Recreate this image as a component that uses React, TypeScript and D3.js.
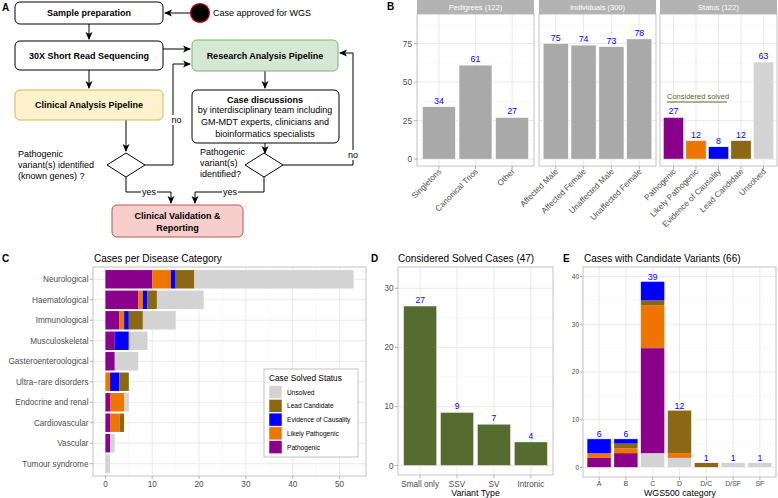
import React from "react";
import * as d3 from "d3";

const FONT = "'Liberation Sans', Arial, Helvetica, sans-serif";

// ---- Panel B data ----
const pedigreeCats = ["Singletons", "Canonical Trios", "Other"];
const pedigreeVals = [34, 61, 27];
const individualCats = ["Affected Male", "Affected Female", "Unaffected Male", "Unaffected Female"];
const individualVals = [75, 74, 73, 78];
const statusCats = ["Pathogenic", "Likely Pathogenic", "Evidence of Causality", "Lead Candidate", "Unsolved"];
const statusVals = [27, 12, 8, 12, 63];
const facetTitles = ["Pedigrees (122)", "Individuals (300)", "Status (122)"];
const bYTicks = [0, 25, 50, 75];

// ---- Panel C data ----
const diseaseCats = [
  "Neurological", "Haematological", "Immunological", "Musculoskeletal", "Gasteroenteroological",
  "Ultra\u2212rare disorders", "Endocrine and renal", "Cardiovascular", "Vascular", "Tumour syndrome",
];
const diseasePathogenic = [10, 7, 3, 2, 2, 0, 1, 1, 1, 0];
const diseaseLikely = [4, 1, 1, 0, 0, 1, 3, 2, 0, 0];
const diseaseEvidence = [1, 1, 1, 3, 0, 2, 0, 0, 0, 0];
const diseaseLead = [4, 2, 3, 0, 0, 2, 0, 1, 0, 0];
const diseaseUnsolved = [34, 10, 7, 4, 5, 0, 1, 0, 1, 1];
const cXTicks = [0, 10, 20, 30, 40, 50];

// ---- Panel D data ----
const variantTypes = ["Small only", "SSV", "SV", "Intronic"];
const variantVals = [27, 9, 7, 4];
const dYTicks = [0, 10, 20, 30];

// ---- Panel E data ----
const wgsCats = ["A", "B", "C", "D", "D/C", "D/SF", "SF"];
const wgsUnsolved = [0, 0, 3, 2, 0, 1, 1];
const wgsPathogenic = [2, 3, 22, 0, 0, 0, 0];
const wgsLikely = [1, 1, 9, 1, 0, 0, 0];
const wgsLead = [0, 1, 1, 9, 1, 0, 0];
const wgsEvidence = [3, 1, 4, 0, 0, 0, 0];
const eYTicks = [0, 10, 20, 30, 40];

const statusColors: Record<string, string> = {
  Pathogenic: "#8B008B",
  "Likely Pathogenic": "#EE7600",
  "Evidence of Causality": "#0000FF",
  "Lead Candidate": "#8B6914",
  Unsolved: "#D3D3D3",
};
const legendOrder = ["Unsolved", "Lead Candidate", "Evidence of Causality", "Likely Pathogenic", "Pathogenic"];

const GRID_MAJ = "#e3e3e3";
const GRID_MIN = "#f0f0f0";
const BORDER = "#b3b3b3";
const AXTXT = "#4d4d4d";
const LABEL_BLUE = "#0000FF";

function expLinear(min: number, max: number, r0: number, r1: number) {
  const pad = 0.05 * (max - min);
  return d3.scaleLinear().domain([min - pad, max + pad]).range([r0, r1]);
}
function ggBand(cats: string[], r0: number, r1: number) {
  return d3.scaleBand<string>().domain(cats).range([r0, r1]).paddingInner(0.1).paddingOuter(0.15);
}

function Arrow({ d }: { d: string }) {
  return <path d={d} fill="none" stroke="#000" strokeWidth={1} markerEnd="url(#arr)" />;
}

function PanelA() {
  const box = (x: number, y: number, w: number, h: number, fill: string, stroke: string) => (
    <rect x={x} y={y} width={w} height={h} rx={5} fill={fill} stroke={stroke} strokeWidth={1} />
  );
  const bt = { fontFamily: FONT, fontSize: 9, fontWeight: 700, textAnchor: "middle" as const };
  const rt = { fontFamily: FONT, fontSize: 9 };
  const diamond = (cx: number, cy: number) =>
    `M${cx},${cy - 12} L${cx + 19},${cy} L${cx},${cy + 12} L${cx - 19},${cy} Z`;
  return (
    <g>
      <text x={2} y={11} fontFamily={FONT} fontSize={10} fontWeight={700}>A</text>
      <Arrow d="M190,13 L165,13" />
      <Arrow d="M89,24 L89,39" />
      <Arrow d="M163,49 L190,49" />
      <Arrow d="M89,70 L89,88" />
      <Arrow d="M265,71 L265,88" />
      <Arrow d="M126,120 L126,151" />
      <Arrow d="M265,143 L265,153" />
      <Arrow d="M145,165 L173,165 L173,64 L190,64" />
      <Arrow d="M283,165 L353,165 L353,53 L340,53" />
      <Arrow d="M126,177 L126,192 L171,192 L171,203" />
      <Arrow d="M264,177 L264,192 L195,192 L195,203" />
      {box(15, 2, 148, 22, "#fff", "#000")}
      {box(15, 41, 148, 29, "#fff", "#000")}
      {box(192, 40, 146, 31, "#d5e8d4", "#82b366")}
      {box(15, 90, 148, 30, "#fff2cc", "#d6b656")}
      {box(192, 90, 147, 53, "#fff", "#000")}
      {box(112, 205, 131, 32, "#f8cecc", "#b85450")}
      <path d={diamond(126, 165)} fill="#fff" stroke="#000" />
      <path d={diamond(264, 165)} fill="#fff" stroke="#000" />
      <circle cx={200} cy={13} r={9.5} fill="#000" stroke="#e00000" strokeWidth={1.2} />
      <text x={89} y={16} {...bt}>Sample preparation</text>
      <text x={213} y={16} {...rt}>Case approved for WGS</text>
      <text x={89} y={59} {...bt}>30X Short Read Sequencing</text>
      <text x={265} y={59} {...bt}>Research Analysis Pipeline</text>
      <text x={89} y={108} {...bt}>Clinical Analysis Pipeline</text>
      <text x={265} y={103} {...bt}>Case discussions</text>
      <text x={265} y={113} {...rt} textAnchor="middle">by interdisciplinary team including</text>
      <text x={265} y={125} {...rt} textAnchor="middle">GM-MDT experts, clinicians and</text>
      <text x={265} y={137} {...rt} textAnchor="middle">bioinformatics specialists</text>
      <text x={18} y={157} {...rt}>Pathogenic</text>
      <text x={18} y={168} {...rt}>variant(s) identified</text>
      <text x={18} y={179} {...rt}>(known genes) ?</text>
      <text x={200} y={155} {...rt}>Pathogenic</text>
      <text x={200} y={166} {...rt}>variant(s)</text>
      <text x={200} y={177} {...rt}>identified?</text>
      <rect x={171} y={115} width={11} height={10} fill="#fff" />
      <text x={176.5} y={123} {...rt} textAnchor="middle">no</text>
      <rect x={347} y={150} width={12} height={10} fill="#fff" />
      <text x={353} y={158} {...rt} textAnchor="middle">no</text>
      <rect x={141} y={187} width={16} height={10} fill="#fff" />
      <text x={149} y={195} {...rt} textAnchor="middle">yes</text>
      <rect x={222} y={187} width={16} height={10} fill="#fff" />
      <text x={230} y={195} {...rt} textAnchor="middle">yes</text>
      <text x={177.5} y={219} {...bt}>Clinical Validation &amp;</text>
      <text x={177.5} y={231} {...bt}>Reporting</text>
    </g>
  );
}

function PanelB() {
  const y = expLinear(0, 89.7, 166, 14);
  const facets = [
    { x0: 417, x1: 534, cats: pedigreeCats, vals: pedigreeVals, colors: pedigreeCats.map(() => "#a9a9a9") },
    { x0: 539, x1: 656, cats: individualCats, vals: individualVals, colors: individualCats.map(() => "#a9a9a9") },
    { x0: 660, x1: 777, cats: statusCats, vals: statusVals, colors: statusCats.map((c) => statusColors[c]) },
  ];
  const minor = [12.5, 37.5, 62.5, 87.5];
  return (
    <g>
      <text x={387} y={10} fontFamily={FONT} fontSize={10} fontWeight={700}>B</text>
      {bYTicks.map((t) => (
        <g key={t}>
          <line x1={414} x2={417} y1={y(t)} y2={y(t)} stroke={BORDER} />
          <text x={412} y={y(t) + 3} textAnchor="end" fontFamily={FONT} fontSize={8.3} fill={AXTXT}>{t}</text>
        </g>
      ))}
      {facets.map((f, i) => {
        const x = ggBand(f.cats, f.x0, f.x1);
        return (
          <g key={i}>
            <rect x={f.x0} y={14} width={f.x1 - f.x0} height={152} fill="#fff" />
            {minor.map((t) => (
              <line key={"m" + t} x1={f.x0} x2={f.x1} y1={y(t)} y2={y(t)} stroke={GRID_MIN} strokeWidth={0.5} />
            ))}
            {bYTicks.map((t) => (
              <line key={"M" + t} x1={f.x0} x2={f.x1} y1={y(t)} y2={y(t)} stroke={GRID_MAJ} strokeWidth={0.8} />
            ))}
            {f.cats.map((c) => (
              <line key={"v" + c} x1={x(c)! + x.bandwidth() / 2} x2={x(c)! + x.bandwidth() / 2} y1={14} y2={166} stroke={GRID_MAJ} strokeWidth={0.8} />
            ))}
            {f.cats.map((c, j) => (
              <rect key={"b" + c} x={x(c)} y={y(f.vals[j])} width={x.bandwidth()} height={y(0) - y(f.vals[j])} fill={f.colors[j]} stroke="#fff" strokeWidth={0.5} />
            ))}
            {f.cats.map((c, j) => (
              <text key={"l" + c} x={x(c)! + x.bandwidth() / 2} y={y(f.vals[j]) - 3} textAnchor="middle" fontFamily={FONT} fontSize={8.8} fill={LABEL_BLUE}>{f.vals[j]}</text>
            ))}
            <rect x={f.x0} y={14} width={f.x1 - f.x0} height={152} fill="none" stroke={BORDER} strokeWidth={0.8} />
            <rect x={f.x0} y={0} width={f.x1 - f.x0} height={14} fill={BORDER} />
            <text x={(f.x0 + f.x1) / 2} y={10} textAnchor="middle" fontFamily={FONT} fontSize={7.5} fill="#fff">{facetTitles[i]}</text>
            {f.cats.map((c) => {
              const cx = x(c)! + x.bandwidth() / 2;
              return (
                <g key={"t" + c}>
                  <line x1={cx} x2={cx} y1={166} y2={169} stroke={BORDER} />
                  <text transform={`translate(${cx + 3},${172}) rotate(-45)`} textAnchor="end" fontFamily={FONT} fontSize={8.2} fill={AXTXT}>{c}</text>
                </g>
              );
            })}
          </g>
        );
      })}
      <text x={667} y={99} fontFamily={FONT} fontSize={7.5} fill="#556B2F">Considered solved</text>
      <line x1={667} x2={727} y1={102} y2={102} stroke="#556B2F" strokeWidth={1} />
    </g>
  );
}

function PanelC() {
  const x = expLinear(0, 53, 93, 366);
  const y = ggBand(diseaseCats, 267, 476);
  const series = [
    { key: "Pathogenic", vals: diseasePathogenic },
    { key: "Likely Pathogenic", vals: diseaseLikely },
    { key: "Evidence of Causality", vals: diseaseEvidence },
    { key: "Lead Candidate", vals: diseaseLead },
    { key: "Unsolved", vals: diseaseUnsolved },
  ];
  const table = diseaseCats.map((c, i) => {
    const row: any = { cat: c };
    series.forEach((s) => (row[s.key] = s.vals[i]));
    return row;
  });
  const stacked = d3.stack<any>().keys(series.map((s) => s.key))(table);
  const minor = [5, 15, 25, 35, 45, 55];
  return (
    <g>
      <text x={2} y={262} fontFamily={FONT} fontSize={10} fontWeight={700}>C</text>
      <text x={94} y={262} fontFamily={FONT} fontSize={10}>Cases per Disease Category</text>
      <rect x={93} y={267} width={273} height={209} fill="#fff" />
      {minor.map((t) => (
        <line key={"m" + t} x1={x(t)} x2={x(t)} y1={267} y2={476} stroke={GRID_MIN} strokeWidth={0.5} />
      ))}
      {cXTicks.map((t) => (
        <line key={"M" + t} x1={x(t)} x2={x(t)} y1={267} y2={476} stroke={GRID_MAJ} strokeWidth={0.8} />
      ))}
      {diseaseCats.map((c) => (
        <line key={"h" + c} x1={93} x2={366} y1={y(c)! + y.bandwidth() / 2} y2={y(c)! + y.bandwidth() / 2} stroke={GRID_MAJ} strokeWidth={0.8} />
      ))}
      {stacked.map((layer) =>
        layer.map((d, i) =>
          d[1] - d[0] > 0 ? (
            <rect key={layer.key + i} x={x(d[0])} y={y(diseaseCats[i])} width={x(d[1]) - x(d[0])} height={y.bandwidth()} fill={statusColors[layer.key]} />
          ) : null
        )
      )}
      <rect x={93} y={267} width={273} height={209} fill="none" stroke={BORDER} strokeWidth={0.8} />
      {diseaseCats.map((c) => (
        <g key={"yl" + c}>
          <line x1={90} x2={93} y1={y(c)! + y.bandwidth() / 2} y2={y(c)! + y.bandwidth() / 2} stroke={BORDER} />
          <text x={88.5} y={y(c)! + y.bandwidth() / 2 + 3} textAnchor="end" fontFamily={FONT} fontSize={8.2} fill={AXTXT}>{c}</text>
        </g>
      ))}
      {cXTicks.map((t) => (
        <g key={"xl" + t}>
          <line x1={x(t)} x2={x(t)} y1={476} y2={479} stroke={BORDER} />
          <text x={x(t)} y={486.5} textAnchor="middle" fontFamily={FONT} fontSize={8.2} fill={AXTXT}>{t}</text>
        </g>
      ))}
      <rect x={264} y={369} width={94} height={88} fill="#fff" stroke={BORDER} strokeWidth={0.8} />
      <text x={269} y={381} fontFamily={FONT} fontSize={8.3}>Case Solved Status</text>
      {legendOrder.map((k, i) => (
        <g key={"lg" + k}>
          <rect x={269} y={385.5 + i * 13.8} width={13} height={13} fill={statusColors[k]} stroke="#fff" strokeWidth={0.5} />
          <text x={287} y={385.5 + i * 13.8 + 9} fontFamily={FONT} fontSize={6.6}>{k}</text>
        </g>
      ))}
    </g>
  );
}

function PanelD() {
  const x = ggBand(variantTypes, 398, 553);
  const y = expLinear(0, 32, 475, 267);
  const minor = [5, 15, 25];
  return (
    <g>
      <text x={371} y={262} fontFamily={FONT} fontSize={10} fontWeight={700}>D</text>
      <text x={398} y={262} fontFamily={FONT} fontSize={10}>Considered Solved Cases (47)</text>
      <rect x={398} y={267} width={155} height={208} fill="#fff" />
      {minor.map((t) => (
        <line key={"m" + t} x1={398} x2={553} y1={y(t)} y2={y(t)} stroke={GRID_MIN} strokeWidth={0.5} />
      ))}
      {dYTicks.map((t) => (
        <line key={"M" + t} x1={398} x2={553} y1={y(t)} y2={y(t)} stroke={GRID_MAJ} strokeWidth={0.8} />
      ))}
      {variantTypes.map((c) => (
        <line key={"v" + c} x1={x(c)! + x.bandwidth() / 2} x2={x(c)! + x.bandwidth() / 2} y1={267} y2={475} stroke={GRID_MAJ} strokeWidth={0.8} />
      ))}
      {variantTypes.map((c, i) => (
        <rect key={"b" + c} x={x(c)} y={y(variantVals[i])} width={x.bandwidth()} height={y(0) - y(variantVals[i])} fill="#556B2F" stroke="#fff" strokeWidth={0.5} />
      ))}
      {variantTypes.map((c, i) => (
        <text key={"l" + c} x={x(c)! + x.bandwidth() / 2} y={y(variantVals[i]) - 3} textAnchor="middle" fontFamily={FONT} fontSize={8.5} fill={LABEL_BLUE}>{variantVals[i]}</text>
      ))}
      <rect x={398} y={267} width={155} height={208} fill="none" stroke={BORDER} strokeWidth={0.8} />
      {dYTicks.map((t) => (
        <g key={"yl" + t}>
          <line x1={395} x2={398} y1={y(t)} y2={y(t)} stroke={BORDER} />
          <text x={393.5} y={y(t) + 3} textAnchor="end" fontFamily={FONT} fontSize={8.2} fill={AXTXT}>{t}</text>
        </g>
      ))}
      {variantTypes.map((c) => (
        <g key={"xl" + c}>
          <line x1={x(c)! + x.bandwidth() / 2} x2={x(c)! + x.bandwidth() / 2} y1={475} y2={478} stroke={BORDER} />
          <text x={x(c)! + x.bandwidth() / 2} y={486.5} textAnchor="middle" fontFamily={FONT} fontSize={8.2} fill={AXTXT}>{c}</text>
        </g>
      ))}
      <text x={475.5} y={496} textAnchor="middle" fontFamily={FONT} fontSize={8.8}>Variant Type</text>
    </g>
  );
}

function PanelE() {
  const x = ggBand(wgsCats, 583, 776);
  const y = expLinear(0, 40, 477, 267);
  const series = [
    { key: "Unsolved", vals: wgsUnsolved },
    { key: "Pathogenic", vals: wgsPathogenic },
    { key: "Likely Pathogenic", vals: wgsLikely },
    { key: "Lead Candidate", vals: wgsLead },
    { key: "Evidence of Causality", vals: wgsEvidence },
  ];
  const table = wgsCats.map((c, i) => {
    const row: any = { cat: c };
    series.forEach((s) => (row[s.key] = s.vals[i]));
    return row;
  });
  const stacked = d3.stack<any>().keys(series.map((s) => s.key))(table);
  const totals = wgsCats.map((_, i) => series.reduce((a, s) => a + s.vals[i], 0));
  const minor = [5, 15, 25, 35];
  return (
    <g>
      <text x={563} y={262} fontFamily={FONT} fontSize={10} fontWeight={700}>E</text>
      <text x={584} y={262} fontFamily={FONT} fontSize={10}>Cases with Candidate Variants (66)</text>
      <rect x={583} y={267} width={193} height={210} fill="#fff" />
      {minor.map((t) => (
        <line key={"m" + t} x1={583} x2={776} y1={y(t)} y2={y(t)} stroke={GRID_MIN} strokeWidth={0.5} />
      ))}
      {eYTicks.map((t) => (
        <line key={"M" + t} x1={583} x2={776} y1={y(t)} y2={y(t)} stroke={GRID_MAJ} strokeWidth={0.8} />
      ))}
      {wgsCats.map((c) => (
        <line key={"v" + c} x1={x(c)! + x.bandwidth() / 2} x2={x(c)! + x.bandwidth() / 2} y1={267} y2={477} stroke={GRID_MAJ} strokeWidth={0.8} />
      ))}
      {stacked.map((layer) =>
        layer.map((d, i) =>
          d[1] - d[0] > 0 ? (
            <rect key={layer.key + i} x={x(wgsCats[i])} y={y(d[1])} width={x.bandwidth()} height={y(d[0]) - y(d[1])} fill={statusColors[layer.key]} />
          ) : null
        )
      )}
      {wgsCats.map((c, i) => (
        <rect key={"o" + c} x={x(c)} y={y(totals[i])} width={x.bandwidth()} height={y(0) - y(totals[i])} fill="none" stroke="#fff" strokeWidth={0.6} />
      ))}
      {wgsCats.map((c, i) => (
        <text key={"l" + c} x={x(c)! + x.bandwidth() / 2} y={y(totals[i]) - 1.5} textAnchor="middle" fontFamily={FONT} fontSize={8.8} fill={LABEL_BLUE}>{totals[i]}</text>
      ))}
      <rect x={583} y={267} width={193} height={210} fill="none" stroke={BORDER} strokeWidth={0.8} />
      {eYTicks.map((t) => (
        <g key={"yl" + t}>
          <line x1={580} x2={583} y1={y(t)} y2={y(t)} stroke={BORDER} />
          <text x={579} y={y(t) + 2.3} textAnchor="end" fontFamily={FONT} fontSize={6.5} fill={AXTXT}>{t}</text>
        </g>
      ))}
      {wgsCats.map((c) => (
        <g key={"xl" + c}>
          <line x1={x(c)! + x.bandwidth() / 2} x2={x(c)! + x.bandwidth() / 2} y1={477} y2={480} stroke={BORDER} />
          <text x={x(c)! + x.bandwidth() / 2} y={486} textAnchor="middle" fontFamily={FONT} fontSize={7} fill={AXTXT}>{c}</text>
        </g>
      ))}
      <text x={680} y={496} textAnchor="middle" fontFamily={FONT} fontSize={8.8}>WGS500 category</text>
    </g>
  );
}

export default function App() {
  return (
    <svg width={778} height={498} viewBox="0 0 778 498" style={{ position: "absolute", left: 0, top: 0, background: "#fff" }}>
      <defs>
        <marker id="arr" viewBox="0 0 8 8" refX={7} refY={4} markerWidth={8} markerHeight={8} markerUnits="userSpaceOnUse" orient="auto">
          <path d="M0,0.5 L8,4 L0,7.5 L2,4 Z" fill="#000" />
        </marker>
      </defs>
      <rect x={0} y={0} width={778} height={498} fill="#fff" />
      <PanelA />
      <PanelB />
      <PanelC />
      <PanelD />
      <PanelE />
    </svg>
  );
}
